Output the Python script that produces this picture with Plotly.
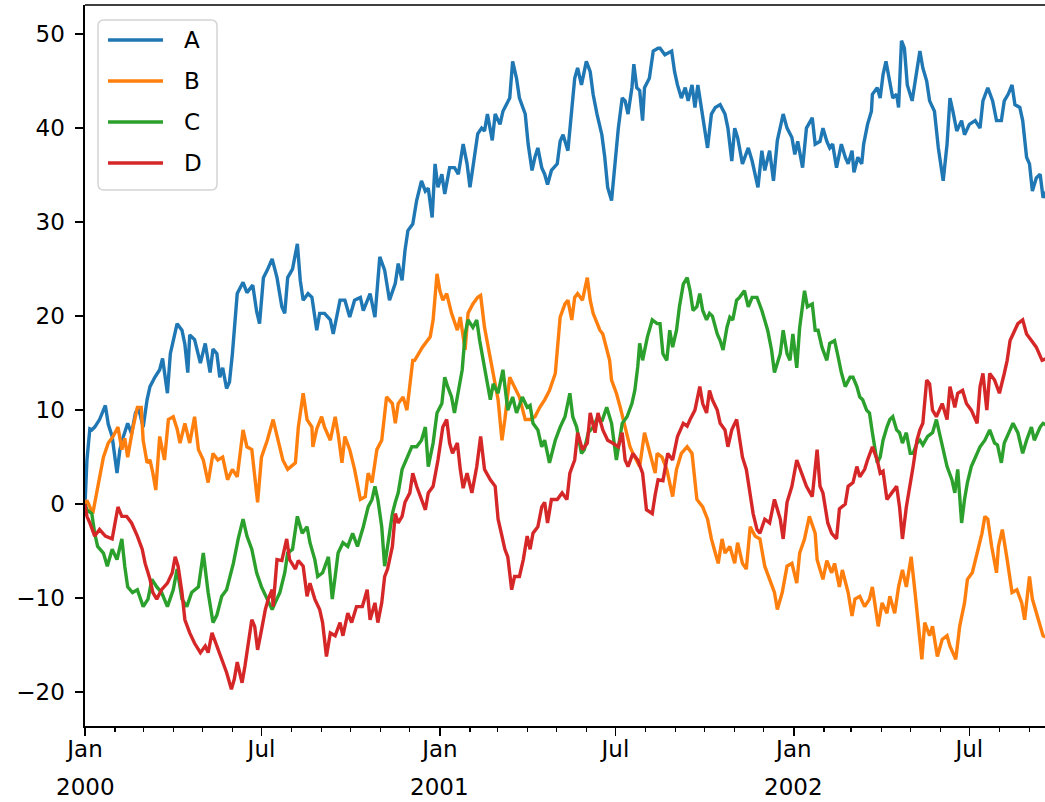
import pandas as pd
import plotly.graph_objects as go

start = pd.Timestamp("2000-01-01")

# ---- data (day offset from 2000-01-01, value) ----
a_days = [0,2,5,7,10,15,21,24,28,31,33,36,39,44,48,52,55,60,64,67,72,77,80,85,88,95,100,103,106,108,113,119,124,129,132,136,139,142,146,149,152,157,163,167,173,177,180,184,188,193,198,203,206,209,214,219,222,225,230,234,239,242,247,253,256,263,268,273,278,284,287,294,299,304,309,314,320,323,327,330,333,338,342,347,351,354,358,361,364,368,371,376,381,385,390,394,397,400,405,409,412,415,420,423,428,431,438,441,445,448,454,457,461,464,467,471,474,477,481,487,490,493,498,505,508,512,517,521,524,528,533,536,539,543,546,550,554,557,560,564,566,569,572,575,577,582,586,591,593,598,605,608,611,615,619,622,626,629,632,636,639,642,646,650,655,660,663,667,670,673,678,684,688,691,694,698,701,706,710,714,720,724,729,732,735,740,744,750,753,758,761,765,768,771,775,780,784,787,791,793,797,801,803,807,811,812,817,820,823,826,829,833,837,839,842,845,848,853,856,861,864,868,871,876,880,885,889,892,895,899,904,907,912,918,923,926,931,936,940,945,948,952,956,959,964,967,971,974,977,981,985,988,999]
a_vals = [0,4.7,8,7.9,8.2,9,10.5,8.5,7.2,4.7,3.3,5.8,7,8.6,7.5,9.7,10.3,8.2,11.1,12.5,13.5,14.3,15.5,11.8,16,19.2,18.5,17,14,18,17.5,15,17.1,14,16.5,16,13.5,14.5,12.3,13,16,22.4,23.6,22.5,23.3,20.5,19.2,24.1,24.9,26.1,24.1,21,20.3,24.1,25,27.7,23.8,21.7,22.4,22,18.5,20.3,20.3,19.6,18.1,21.7,21.7,19.9,21.7,22,20.6,22.4,19.9,26.3,24.9,21.7,23.5,25.6,23.8,27,29.1,29.8,32.3,34.4,33.3,33.6,30.5,36.2,33.7,35.1,33,35.8,35.8,35.1,38.3,36.2,33.7,35.8,39.4,40,39.7,41.5,38.7,41.5,40.4,41.8,43.2,47.1,45.3,43.2,41.5,38.3,35.5,36.9,37.9,35.8,35.1,34,35.5,36.2,38.6,39.3,37.6,45.3,46.4,44.6,47.1,46,43.6,41.5,39.3,36.9,33.7,32.3,35.8,40,43.2,42.9,41.5,44.3,46.8,44.3,44,40.8,44.3,45.3,48.2,48.5,48.5,47.8,48.2,46,44.6,43.2,44.3,42.9,44.6,42.2,44.6,41.8,39.7,37.9,41.5,42.2,42.5,41.5,40,36.5,40,39,36.2,37.9,36.5,35.1,33.7,37.6,35.5,37.6,34.4,38.7,41.5,40,39,37.2,38.6,35.8,40,41.1,38.3,38.6,40,38.6,37.9,38.3,35.8,38.3,36.9,36.2,37.6,35.3,36.9,36.2,38.3,40.4,41.8,43.6,44.3,43.2,45.7,47.1,45.3,43.2,43.6,42.2,49.3,48.5,44.6,42.9,44.9,48.2,46.4,45,42.9,41.8,37.9,34.4,38.3,43.2,41.8,39.7,40.8,39.3,40.4,40.8,40,42.9,44.3,42.9,40.8,40.8,42.9,43.6,44.6,42.5,42.2,40.8,36.9,36.2,33.3,34.7,35.1,32.6,34.8]

b_days = [0,2,8,13,19,24,29,34,38,41,44,49,54,58,60,64,67,70,73,77,82,86,91,95,98,103,108,113,117,122,127,132,137,142,147,152,157,163,167,172,175,178,182,188,194,199,204,209,217,220,225,229,234,235,239,244,247,253,258,261,265,268,273,278,284,289,292,296,301,306,311,317,320,323,328,332,335,338,340,348,356,359,363,366,369,373,378,384,387,392,395,400,405,408,412,415,420,421,426,430,433,438,443,448,454,459,464,469,474,479,485,487,490,495,498,502,505,508,513,518,521,524,528,531,534,538,541,543,548,552,555,559,562,565,569,572,577,580,585,588,590,595,600,606,610,615,621,626,631,637,642,646,650,653,657,660,665,670,673,678,682,686,691,696,701,706,711,714,719,724,729,734,737,742,747,753,755,761,765,770,773,778,781,787,791,794,799,804,809,812,818,822,827,830,835,839,843,847,852,856,859,863,866,871,874,879,884,889,892,898,902,907,910,915,921,925,928,931,935,940,942,946,951,956,961,966,969,974,977,982,988,999]
b_vals = [0,0.4,-1,1.9,5,6.5,7.2,8.2,5.8,7,5,7.9,10.3,10.3,6.8,4.4,4.7,3.3,1.5,7.2,4.7,9,9.3,8,6.5,8.6,6.5,9.3,5.8,4.7,2.3,5.4,4.7,5,2.6,3.7,2.9,7.9,6.1,5.8,2.9,0.2,5,6.8,9,7,4.7,3.7,4.4,8.2,11.8,9,8.2,6.1,8,9.3,8.2,6.8,9.3,7.5,4.4,7.2,5.8,3.7,0.5,0.8,3.3,2.3,5.8,6.8,11.4,10.7,8.6,10.7,11.4,10,12.5,15.3,15.3,16.7,17.8,19.6,24.5,22.7,21.7,22.4,20.3,18.5,19.9,16.4,20.3,21.3,22,22.2,18.8,17.1,14.6,13.9,11.1,6.8,9,13.5,12.5,11.4,9,9,9.3,10.3,11.1,12.1,13.9,16.4,19.9,21.3,21.7,19.6,22,22.4,21.7,24.1,21.7,20.3,19.2,18.5,18.1,16.4,15.3,13.2,11.8,10.3,9,7.2,6.1,5.4,4.7,4,7.6,6.5,4.4,3.3,5.4,5,3.7,0.8,3.7,5.4,6.1,5.4,0.5,-0.3,-1.6,-3.7,-5.2,-6.3,-3.7,-5.2,-4.5,-6.3,-4.1,-6.3,-6.9,-2.4,-3.4,-3.7,-6.6,-8,-9.4,-11.2,-9.4,-6.6,-6.3,-8.4,-5.2,-3.7,-1.3,-3.1,-5.9,-8,-6,-7.3,-6.3,-8.8,-7,-9.4,-11.9,-10.1,-9.8,-10.9,-10.1,-8.8,-13,-10.5,-11.6,-9.8,-11.6,-8.8,-7,-8.8,-5.6,-9.4,-12.3,-16.5,-12.6,-14,-13,-16.2,-14.4,-14,-15.1,-16.5,-13,-10.5,-8,-7.3,-4.8,-3.1,-1.3,-1.6,-4.5,-7.3,-4.5,-2.7,-5.9,-9.4,-9.1,-10.5,-12.3,-7.7,-10.1,-11.9,-14,-14.5]

c_days = [0,2,7,10,13,19,23,28,33,38,41,44,49,54,60,65,69,74,79,85,91,95,100,105,110,117,122,127,132,136,141,146,153,158,163,167,172,177,182,188,193,196,201,206,209,214,219,224,229,232,237,240,245,251,255,258,261,266,271,276,281,287,292,296,299,302,306,309,312,317,320,323,327,332,337,342,347,351,354,359,363,368,371,374,378,381,385,389,392,395,400,404,407,412,418,421,426,431,436,441,445,451,456,459,462,467,471,474,479,485,490,495,500,503,507,512,515,519,524,529,533,538,543,548,554,559,564,567,570,572,575,580,585,590,593,596,600,603,606,610,613,617,621,624,627,631,634,637,641,644,647,652,655,658,662,665,668,672,675,680,684,688,693,698,701,704,708,711,717,720,724,727,730,734,737,740,742,745,750,753,756,760,765,768,773,776,780,784,789,792,796,799,802,806,809,812,817,820,823,827,830,833,837,840,843,847,851,854,858,861,864,869,874,878,881,885,889,894,897,900,904,907,910,914,918,923,928,933,938,941,945,948,954,957,962,967,971,976,979,985,988,999]
c_vals = [0,-0.6,-1,-3.1,-4.5,-5.2,-6.6,-4.8,-5.9,-3.7,-6.6,-8.8,-9.4,-9.1,-10.9,-10.1,-8,-8.8,-9.4,-10.9,-9.1,-6.9,-10.1,-10.9,-9.4,-8.8,-5.2,-9.4,-12.6,-11.8,-9.8,-9.1,-6.3,-3.7,-1.6,-3.4,-4.8,-7.3,-8.8,-10.1,-11.2,-10.5,-9.4,-7.3,-5.2,-4.8,-1.3,-3.1,-2.4,-4.1,-5.9,-7.7,-7.3,-5.6,-10.1,-7.7,-5.2,-4.1,-4.5,-3.1,-4.5,-2.4,-0.3,0.5,1.9,0.5,-2.4,-6.6,-4.5,-1,0.2,1.2,3.7,5,6.1,6.1,6.8,8.2,4,6.5,9.7,10.7,13.5,12.5,11.4,9.7,11.8,14.3,18.1,19.6,18.8,19.6,17.4,14.5,11.1,12.8,11.8,14.3,10,11.4,9.7,11.4,10.3,10.5,8.6,7.9,6.1,6.8,4.4,6.8,8.2,9.3,11.8,9.3,8.2,5.4,5.8,7.6,8.2,9.3,8.8,10.3,8.6,4.7,8.6,9.3,10.7,12.1,14.6,17.1,15.3,17.8,19.6,19.2,19.2,16,15.3,18.5,16.7,18.5,21,23.4,24.1,22.7,20.6,21,22.4,20.6,19.6,20.3,20,18.1,17.4,16.4,18.8,19.9,19.6,21.7,22,22.7,21,22,22,20.6,19.6,18.5,16.4,14,16,18.5,16,15.3,18.1,14.5,18.8,21.3,22.7,21,21.3,18.5,18.5,16.7,15.3,17.1,17.4,16,14,12.5,13.5,13.5,12.5,11.4,11.1,10,9.7,7.6,4.4,5,6.8,8.2,9,9.3,7.9,7.6,6.5,7.6,5.4,5.4,6.5,6.8,6.3,7.2,7.6,9,7.6,5.8,4,2.6,1.2,3.7,-2,0.5,2.3,4,5,6.1,6.8,7.9,6.5,6.3,4.4,6.5,7.9,8.6,7.6,5.4,6.8,8.2,6.8,8.2,8.6,8]

d_days = [0,2,5,10,15,21,28,31,34,38,43,48,54,59,62,65,67,70,74,79,85,90,93,96,100,103,108,113,119,124,127,131,136,141,146,151,154,157,162,165,168,172,175,178,182,186,189,193,194,198,203,208,211,217,220,225,229,232,237,242,245,249,253,258,263,266,271,275,280,286,291,294,299,302,306,309,312,317,320,323,327,330,335,338,342,347,351,354,359,364,369,373,376,379,384,387,390,394,399,404,408,412,418,423,426,430,433,436,440,443,448,452,456,459,462,467,471,474,477,481,487,492,497,500,505,508,513,518,521,526,529,534,539,544,550,554,557,560,565,570,575,579,585,588,591,596,601,606,611,617,621,624,629,634,637,641,644,647,652,655,660,663,667,672,675,678,682,686,689,693,696,701,706,711,717,720,724,729,734,739,744,750,755,758,761,766,770,775,778,784,787,792,796,799,804,807,812,817,820,823,827,832,837,840,843,847,851,854,858,861,864,868,871,874,878,884,889,892,897,900,905,909,914,920,923,926,930,933,938,943,948,951,954,957,962,967,971,976,981,987,999]
d_vals = [0,-1.3,-2,-3.4,-2.7,-3.4,-3.7,-2,-0.3,-1.3,-1.3,-2,-3.4,-4.8,-6.3,-7.3,-8,-9.4,-10.1,-9.1,-8.4,-7.3,-5.6,-6.6,-9.4,-12.3,-13.7,-14.8,-15.8,-15.1,-15.8,-13.7,-15.1,-16.5,-17.9,-19.7,-18.6,-16.8,-19,-17.2,-14.8,-12.3,-13,-15.5,-13.4,-11.2,-10.1,-9.1,-10.9,-5.9,-6,-3.7,-5.9,-6.9,-6,-6.6,-9.8,-8.4,-10.1,-11.2,-12.6,-16.2,-13.7,-14,-12.6,-14,-11.6,-12.6,-10.9,-10.9,-9.1,-12.3,-10.5,-12.6,-10.5,-7.7,-6.9,-4.5,-1,-2,-1.3,0.2,1.2,3.3,1.9,0.5,-0.6,1.2,1.9,4.7,8.2,9,6.5,5.4,6.5,3.7,1.7,3.3,1.2,4,7.2,3.7,2.6,1.9,-1.6,-3.4,-4.8,-5.6,-9.1,-7.7,-7.7,-5.9,-3.4,-4.8,-3.1,-2.4,-0.3,0.2,-2,0.5,0.5,1.2,0.5,3.3,4.7,7.6,5.8,6.5,9.7,7.6,9.7,7.9,6.8,6.5,6.1,7.6,4.7,4,5.4,4.7,3.3,-0.6,-1,1,2.6,2.5,5.4,4.7,7.2,8.6,8.3,9,10,12.5,10.7,9.7,12.1,11.1,10,8.6,7.9,6.1,7.9,9,7.2,5,3.7,1.2,-1,-2.7,-3.1,-1.6,-2,0.5,-1.6,-3.7,0.2,1.9,4.7,3.3,1.9,0.8,5.8,1.9,1.2,-2,-3.1,-3.7,-0.5,0,1.9,2.3,4,2.9,3.7,4.7,6.1,4.7,3.3,3.5,0.5,1.2,1.9,-0.3,-3.7,-0.3,1.9,4,6.8,7.9,8.6,13.2,12.8,10,9.3,10.7,9,12.5,10.3,11.8,12.1,10.7,10,8.6,12.5,13.9,10,13.9,13.2,11.8,13.9,15.3,17.4,18.1,19.2,19.6,18.1,17.4,16.7,15.3,15.8]

series_names = ["A", "B", "C", "D"]
series_days = [a_days, b_days, c_days, d_days]
series_vals = [a_vals, b_vals, c_vals, d_vals]
colors = ["#1f77b4", "#ff7f0e", "#2ca02c", "#d62728"]

y_ticks = [-20, -10, 0, 10, 20, 30, 40, 50]
x_tick_dates = ["2000-01-01", "2000-07-01", "2001-01-01", "2001-07-01", "2002-01-01", "2002-07-01"]
x_tick_text = ["Jan", "Jul", "Jan", "Jul", "Jan", "Jul"]
year_dates = ["2000-01-01", "2001-01-01", "2002-01-01"]
year_text = ["2000", "2001", "2002"]

FONT = "DejaVu Sans"
FS = 23
LW = 3.4

fig = go.Figure()
for name, days, vals, col in zip(series_names, series_days, series_vals, colors):
    dates = start + pd.to_timedelta(days, unit="D")
    fig.add_trace(go.Scatter(x=dates, y=vals, mode="lines", name=name,
                             line=dict(color=col, width=LW), showlegend=False,
                             hoverinfo="skip"))

W, H = 1045, 802
ml, mr, mt, mb = 85, 0, 5, 76
pw, ph = W - ml - mr, H - mt - mb

def px(x):
    return (x - ml) / pw

def py(y):
    return (H - mb - y) / ph

# legend frame (rounded rectangle) in paper coords
x0, x1, y0, y1, r = 98, 217, 20, 190, 6
rx, ry = r / pw, r / ph
X0, X1, Y0, Y1 = px(x0), px(x1), py(y1), py(y0)
path = (f"M {X0+rx},{Y0} L {X1-rx},{Y0} Q {X1},{Y0} {X1},{Y0+ry} "
        f"L {X1},{Y1-ry} Q {X1},{Y1} {X1-rx},{Y1} L {X0+rx},{Y1} "
        f"Q {X0},{Y1} {X0},{Y1-ry} L {X0},{Y0+ry} Q {X0},{Y0} {X0+rx},{Y0} Z")
shapes = [dict(type="path", path=path, xref="paper", yref="paper",
               line=dict(color="#d4d4d4", width=1.5), fillcolor="rgba(255,255,255,0.8)", layer="above")]
annotations = []
legend_y = [40, 81, 122, 163]
for name, col, ly in zip(series_names, colors, legend_y):
    shapes.append(dict(type="line", xref="paper", yref="paper", x0=px(108), x1=px(163),
                       y0=py(ly), y1=py(ly), line=dict(color=col, width=LW), layer="above"))
    annotations.append(dict(text=name, xref="paper", yref="paper", x=px(182), y=py(ly),
                            xanchor="left", yanchor="middle", showarrow=False,
                            font=dict(family=FONT, size=FS, color="#000")))
# year labels under the January ticks
for d, t in zip(year_dates, year_text):
    annotations.append(dict(text=t, xref="x", yref="paper", x=d, y=py(787),
                            xanchor="center", yanchor="middle", showarrow=False,
                            font=dict(family=FONT, size=FS, color="#000")))
# top spine
shapes.append(dict(type="line", xref="paper", yref="paper", x0=0, x1=1, y0=1, y1=1,
                   line=dict(color="black", width=1.6)))

fig.update_layout(
    width=W, height=H,
    margin=dict(l=ml, r=mr, t=mt, b=mb, pad=0),
    plot_bgcolor="white", paper_bgcolor="white",
    font=dict(family=FONT, size=FS, color="#000"),
    shapes=shapes, annotations=annotations,
    showlegend=False, hovermode=False,
)
fig.update_xaxes(
    type="date", range=["2000-01-01", "2002-09-17"],
    tickmode="array", tickvals=x_tick_dates, ticktext=x_tick_text,
    ticks="outside", ticklen=8, tickwidth=1.6, tickcolor="black",
    showline=True, linecolor="black", linewidth=1.6, showgrid=False, zeroline=False,
    ticklabelstandoff=-6,
    minor=dict(dtick="M1", tick0="2000-01-01", ticks="outside", ticklen=4.5,
               tickwidth=1.2, tickcolor="black", showgrid=False),
    tickfont=dict(family=FONT, size=FS, color="#000"),
)
fig.update_yaxes(
    range=[-23.6, 53.1], tickmode="array", tickvals=y_ticks,
    ticks="outside", ticklen=8, tickwidth=1.6, tickcolor="black",
    showline=True, linecolor="black", linewidth=1.6, showgrid=False, zeroline=False,
    ticklabelstandoff=6,
    tickfont=dict(family=FONT, size=FS, color="#000"),
)

fig.write_html("out.html", config={"displayModeBar": False, "staticPlot": True},
               post_script="document.body.style.margin='0px';document.body.style.overflow='hidden';")
